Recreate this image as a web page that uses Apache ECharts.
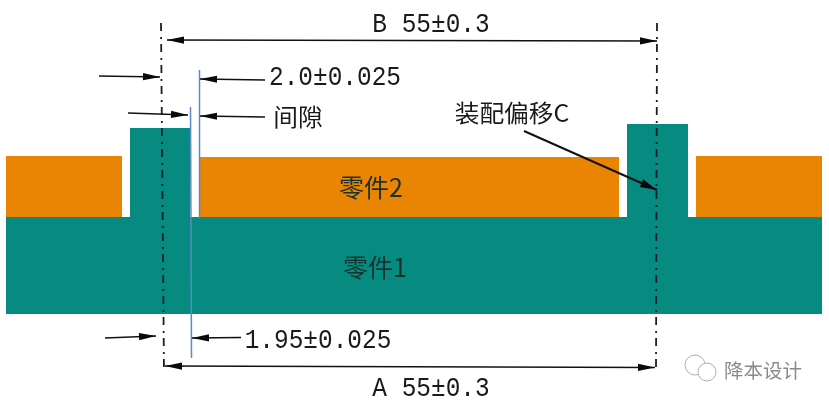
<!DOCTYPE html>
<html><head><meta charset="utf-8">
<style>html,body{margin:0;padding:0;background:#fff}#c{width:829px;height:406px}</style>
<script src="https://cdn.jsdelivr.net/npm/echarts@6/dist/echarts.min.js"></script>
</head><body><div id="c"></div>
<script>
// Diagram geometry, in axis units: [x0, y0, x1, y1]
var part1Blocks = [[6,217,822,314],[130,128,190,217],[627,124,688,217]];
var part2Blocks = [[6,156,122,217],[200,157,619,218],[696,156,822,217]];
var datumLines = [[161,23,164,373],[657,23,656,373]];
var edgeLines = [[199.5,70,199.5,218],[190.5,107,191.5,358]];
var doubleArrows = [[167,40,657,41],[165,366,655,367.5]];
var singleArrows = [[99,76,160,77],[128,113,188,115],[265,80,200,79],[265,117,200,116],[105,338,156,336],[241,337.5,192,338]];
var calloutArrows = [[524,131,657,190]];
var bigLabels = [['B 55±0.3',431,25],['2.0±0.025',335,78],['1.95±0.025',318,341],['A 55±0.3',431,389]];
var cjkLabels = [['间隙',298,117],['装配偏移C',512,113]];
var partLabels = [['零件2',371,187],['零件1',375,267]];
var markText = [['降本设计',763,371]];
var markBubbles = [[695,365,10],[707,372,9]];

var FONT_LATIN = '"Liberation Mono","DejaVu Sans Mono",monospace';
var FONT_CJK = '"Noto Sans CJK SC",sans-serif';

function rectSeries(data, color){
  return {type:'custom',coordinateSystem:'cartesian2d',silent:true,data:data,
    encode:{x:[0,2],y:[1,3]},
    renderItem:function(p,api){
      var a=api.coord([api.value(0),api.value(1)]),b=api.coord([api.value(2),api.value(3)]);
      return {type:'rect',shape:{x:a[0],y:a[1],width:b[0]-a[0],height:b[1]-a[1]},style:{fill:color}};
    }};
}
function lineSeries(data, style){
  return {type:'custom',coordinateSystem:'cartesian2d',silent:true,data:data,
    encode:{x:[0,2],y:[1,3]},
    renderItem:function(p,api){
      var a=api.coord([api.value(0),api.value(1)]),b=api.coord([api.value(2),api.value(3)]);
      return {type:'line',shape:{x1:a[0],y1:a[1],x2:b[0],y2:b[1]},style:style};
    }};
}
function head(tip,from,len,hw,color){
  var dx=tip[0]-from[0],dy=tip[1]-from[1],d=Math.sqrt(dx*dx+dy*dy);dx/=d;dy/=d;
  var bx=tip[0]-dx*len,by=tip[1]-dy*len;
  return {type:'polygon',shape:{points:[tip,[bx-dy*hw,by+dx*hw],[bx+dy*hw,by-dx*hw]]},style:{fill:color}};
}
function arrowSeries(data, both, width, hw){
  return {type:'custom',coordinateSystem:'cartesian2d',silent:true,data:data,z:5,
    encode:{x:[0,2],y:[1,3]},
    renderItem:function(p,api){
      var a=api.coord([api.value(0),api.value(1)]),b=api.coord([api.value(2),api.value(3)]);
      var kids=[{type:'line',shape:{x1:a[0],y1:a[1],x2:b[0],y2:b[1]},style:{stroke:'#111',lineWidth:width}},head(b,a,17,hw,'#0a0a0a')];
      if(both)kids.push(head(a,b,17,hw,'#0a0a0a'));
      return {type:'group',children:kids};
    }};
}
function textSeries(data,font,size,color,sx,sy){
  return {type:'custom',coordinateSystem:'cartesian2d',silent:true,data:data,z:6,
    encode:{x:1,y:2},
    renderItem:function(p,api){
      var a=api.coord([api.value(1),api.value(2)]);
      return {type:'text',x:a[0],y:a[1],scaleX:sx||1,scaleY:sy||1,
        style:{text:data[p.dataIndex][0],fontFamily:font,fontSize:size,fill:color,align:'center',verticalAlign:'middle'}};
    }};
}
var chart=echarts.init(document.getElementById('c'),null,{renderer:'canvas'});
chart.setOption({
  animation:false,backgroundColor:'#fff',
  grid:{left:0,right:0,top:0,bottom:0},
  xAxis:{type:'value',min:0,max:829,show:false},
  yAxis:{type:'value',min:0,max:406,inverse:true,show:false},
  series:[
    rectSeries(part2Blocks,'#ea8403'),
    rectSeries(part1Blocks,'#078a80'),
    lineSeries(edgeLines,{stroke:'#5b8ac6',lineWidth:1.5}),
    lineSeries(datumLines,{stroke:'#14202c',lineWidth:1.8,lineDash:[8,6,2,5]}),
    arrowSeries(doubleArrows,true,1.3,3.6),
    arrowSeries(singleArrows,false,1.3,3.6),
    arrowSeries(calloutArrows,false,2,4.2),
    textSeries(bigLabels,FONT_LATIN,26,'#1a1a1a',0.94,1.05),
    textSeries(cjkLabels,FONT_CJK,24,'#1a1a1a',1.03,1),
    textSeries(partLabels,FONT_CJK,25,'#16302c',1,1),
    textSeries(markText,FONT_CJK,19.5,'#8a8a8a'),
    {type:'custom',coordinateSystem:'cartesian2d',silent:true,data:markBubbles,encode:{x:0,y:1},
      renderItem:function(p,api){
        var a=api.coord([api.value(0),api.value(1)]);
        return {type:'circle',shape:{cx:a[0],cy:a[1],r:api.value(2)},style:{fill:'#fff',stroke:'#b0b0b0',lineWidth:1}};
      }}
  ]
});
</script></body></html>
